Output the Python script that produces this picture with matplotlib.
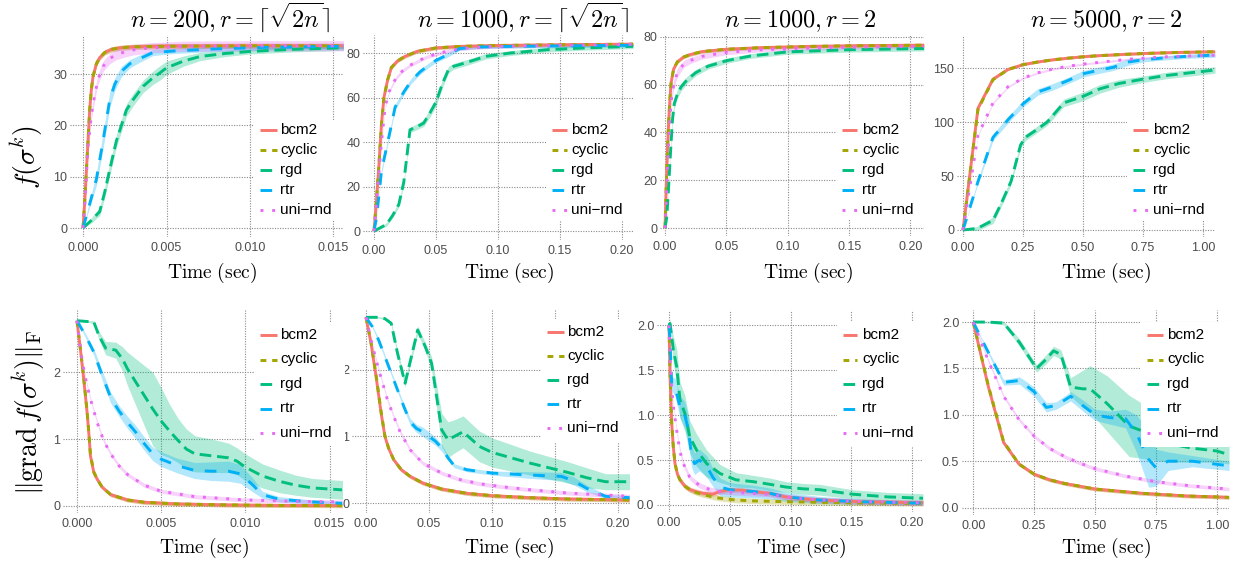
import matplotlib
matplotlib.use("Agg")
import matplotlib.pyplot as plt
from matplotlib.lines import Line2D
from matplotlib.patches import Rectangle
import numpy as np

W, H = 1233, 567
plt.rcParams['mathtext.fontset'] = 'cm'
plt.rcParams['font.family'] = ['Liberation Sans', 'DejaVu Sans']

methods = ['bcm2', 'cyclic', 'rgd', 'rtr', 'uni-rnd']
legend_labels = ['bcm2', 'cyclic', 'rgd', 'rtr', 'uni\u2212rnd']
colors = {'bcm2': '#F8766D', 'cyclic': '#A3A500', 'rgd': '#00BF7D',
          'rtr': '#00B0F6', 'uni-rnd': '#E76BF3'}
dashes = {'bcm2': '-', 'cyclic': (0, (2, 2)), 'rgd': (0, (4, 2)),
          'rtr': (0, (4, 4)), 'uni-rnd': (0, (1, 3))}

titles = [r'$n = 200, r = \lceil\sqrt{2n}\rceil$', r'$n = 1000, r = \lceil\sqrt{2n}\rceil$',
          r'$n = 1000, r = 2$', r'$n = 5000, r = 2$']

# ---------------- panel 1 : n=200, r=ceil(sqrt(2n)), f ----------------
p1_t_bcm2 = [0, .0001, .0002, .0003, .0004, .0005, .0006, .0008, .001, .0013, .0017, .0022, .003, .005, .01, .0156]
p1_bcm2 = [0, 5, 11, 17, 23, 27, 29.5, 32, 33.2, 34.2, 34.8, 35.1, 35.3, 35.45, 35.5, 35.5]
p1_cyclic = [0, 5.2, 11.2, 17.2, 23.1, 27, 29.5, 32, 33.2, 34.2, 34.8, 35.1, 35.3, 35.4, 35.5, 35.5]
p1_t_uni = [0, .0001, .0002, .0003, .0005, .0007, .0009, .0012, .0016, .002, .0025, .003, .004, .006, .01, .0156]
p1_uni = [0, 4, 10, 16, 22, 26, 29, 31.5, 33, 33.8, 34.3, 34.7, 35.1, 35.4, 35.5, 35.5]
p1_t_rtr = [0, .0003, .0008, .0012, .0016, .0019, .0023, .0028, .0034, .0042, .0055, .008, .011, .0156]
p1_rtr = [0, 3.5, 9.5, 17, 25, 28, 30.5, 32, 33, 34.2, 34.5, 34.9, 35.2, 35.4]
p1_rtr_sd = [0, .5, 1.2, 1.5, 1.5, 1.2, 1, .8, .7, .6, .5, .5, .5, .5]
p1_t_rgd = [0, .0005, .001, .0013, .0016, .002, .0026, .003, .0036, .0042, .0046, .005, .006, .007, .0085, .01, .0125, .0156]
p1_rgd = [0, 1.5, 3.2, 7, 11.4, 17, 23, 25, 27.6, 29.3, 30.2, 31.2, 32.5, 33.4, 34, 34.4, 34.8, 35.1]
p1_rgd_sd = [0, .5, .8, 1, 1.2, 1.2, 1.2, 1.2, 1.2, 1.3, 1.4, 1.3, 1, .8, .6, .5, .5, .5]
p1_small_sd = 0.5

# ---------------- panel 2 : n=1000, r=ceil(sqrt(2n)), f ----------------
p2_t_bcm2 = [0, .002, .004, .006, .008, .011, .014, .019, .025, .035, .05, .07, .1, .15, .209]
p2_bcm2 = [0, 14, 30, 48, 60, 68, 73.5, 76.5, 78.5, 80.8, 82.3, 83, 83.4, 83.7, 84]
p2_cyclic = [0, 14.5, 30.5, 48, 60, 68, 73.5, 76.5, 78.5, 80.8, 82.3, 83, 83.4, 83.7, 84]
p2_t_uni = [0, .003, .006, .009, .012, .015, .018, .023, .029, .036, .042, .05, .056, .069, .09, .12, .16, .209]
p2_uni = [0, 20, 40, 56, 62.5, 66, 69, 72, 74.5, 76.5, 78.2, 79.5, 80.4, 82, 82.8, 83.3, 83.6, 83.9]
p2_t_rtr = [0, .002, .006, .013, .017, .024, .03, .037, .044, .05, .061, .069, .083, .11, .15, .209]
p2_rtr = [0, 6, 27, 45, 55.7, 62.5, 67.5, 71.5, 74.5, 76.7, 79.7, 82, 82.7, 83, 83.2, 83.5]
p2_rtr_sd = [0, .8, 1.2, 1.2, 1.2, 1.2, 1.2, 1.2, 1, 1, 1, .8, .8, .8, .8, .8]
p2_t_rgd = [0, .005, .01, .015, .02, .024, .027, .029, .035, .04, .045, .05, .055, .06, .064, .075, .09, .11, .14, .17, .209]
p2_rgd = [0, 1.5, 3, 7, 12, 22, 36, 45.5, 47, 48.5, 53, 58, 66, 72.5, 74, 75.8, 78.5, 80, 81.5, 82.3, 83]
p2_rgd_sd = [0, .5, .8, 1, 1.2, 1.2, 1.2, 1.2, 1.3, 1.5, 1.8, 2, 1.8, 1.5, 1.3, 1.3, 1.2, 1.1, 1, 1, 1]
p2_small_sd = 0.8

# ---------------- panel 3 : n=1000, r=2, f ----------------
p3_t_bcm2 = [0, .001, .002, .003, .004, .005, .007, .01, .015, .02, .03, .05, .08, .12, .16, .211]
p3_bcm2 = [0, 18, 33, 45, 54, 61, 66.5, 69.5, 71.5, 72.5, 73.8, 74.8, 75.5, 76, 76.3, 76.5]
p3_cyclic = [0, 18.5, 33.5, 45, 54, 61, 66.5, 69.5, 71.5, 72.5, 73.8, 74.8, 75.5, 76, 76.3, 76.5]
p3_uni = [0, 12, 25, 37, 46, 53, 60, 65, 68.5, 70, 71.8, 73.5, 74.6, 75.3, 75.7, 76]
p3_uni_sd = [0, 1.5, 2, 2, 2, 2, 2, 1.8, 1.5, 1.3, 1.1, 1, .8, .8, .8, .8]
p3_t_rgd = [0, .0015, .003, .0045, .006, .0075, .01, .013, .018, .025, .035, .05, .07, .1, .15, .211]
p3_rgd = [0, 5, 18, 32, 45, 52, 56, 59, 62, 65, 67.7, 70, 72, 73.7, 74.6, 75.1]
p3_rgd_sd = [0, 1, 1.5, 2, 2, 2, 1.8, 1.7, 1.5, 1.3, 1.2, 1.1, 1, 1, 1, 1]
p3_small_sd = 0.7

# ---------------- panel 4 : n=5000, r=2, f ----------------
p4_t_bcm2 = [0, .0625, .125, .1875, .25, .3125, .375, .4375, .5, .5625, .625, .6875, .75, .8125, .875, .9375, 1.0, 1.05]
p4_bcm2 = [0, 113, 140, 149, 153.5, 156, 158, 159.5, 160.8, 161.8, 162.5, 163.2, 163.8, 164.3, 164.7, 165, 165.3, 165.5]
p4_cyclic = [0, 112, 139.5, 149, 153.5, 156, 158, 159.5, 160.8, 161.8, 162.5, 163.2, 163.8, 164.3, 164.7, 165, 165.3, 165.5]
p4_uni = [0, 88, 118, 133, 141, 146, 149.5, 152, 154, 155.5, 157, 158.5, 159.5, 160.5, 161, 161.5, 162, 162.3]
p4_t_rtr = [0, .0625, .125, .19, .25, .31, .375, .44, .5, .56, .625, .69, .75, .85, .95, 1.05]
p4_rtr = [0, 45, 86, 103, 117, 128, 133, 139, 145, 148, 151, 156, 158, 160, 161.5, 162.3]
p4_rtr_sd = [0, 2, 3, 3, 3, 3, 3, 3, 3, 3, 3, 3, 2, 2, 2, 2]
p4_t_rgd = [0, .06, .125, .16, .2, .22, .24, .26, .3, .35, .42, .5, .57, .65, .75, .85, .95, 1.05]
p4_rgd = [0, 1.5, 9, 25, 45, 62, 79, 86, 92, 100, 118, 124, 131, 136, 140, 143.5, 146, 148.5]
p4_rgd_sd = [0, 2, 3, 3, 3, 3, 3, 3, 3, 3, 3.5, 4, 4, 3.5, 3, 3, 3, 3]
p4_small_sd = 1.0

# ---------------- panel 5 : n=200, r=ceil(sqrt(2n)), grad ----------------
p5_t_bcm2 = [0, .0002, .0004, .0006, .0007, .0008, .001, .0012, .0015, .002, .003, .004, .006, .009, .012, .0158]
p5_bcm2 = [2.77, 2.35, 1.9, 1.4, 1.1, .75, .5, .4, .28, .17, .09, .055, .03, .015, .008, .005]
p5_cyclic = [2.77, 2.36, 1.92, 1.42, 1.12, .77, .51, .4, .28, .17, .09, .055, .03, .015, .008, .005]
p5_t_uni = [0, .0002, .0004, .0006, .0008, .001, .0013, .0016, .002, .0025, .003, .004, .005, .007, .01, .013, .0158]
p5_uni = [2.77, 2.35, 2.05, 1.8, 1.6, 1.42, 1.17, .97, .78, .6, .47, .31, .22, .14, .09, .07, .06]
p5_t_rtr = [0, .0005, .001, .0015, .002, .0025, .003, .0035, .004, .0045, .005, .006, .007, .008, .009, .0097, .0105, .011, .012, .014, .0158]
p5_rtr = [2.77, 2.55, 2.3, 1.95, 1.62, 1.42, 1.25, 1.1, .93, .78, .7, .6, .53, .52, .52, .48, .3, .17, .1, .06, .04]
p5_rtr_sd = [0, .03, .05, .07, .08, .08, .09, .1, .1, .1, .11, .11, .12, .14, .15, .14, .1, .05, .04, .03, .02]
p5_t_rgd = [0, .0005, .001, .0013, .0017, .0023, .0027, .003, .0035, .004, .0045, .005, .0055, .006, .0065, .007, .008, .009, .0095, .01, .011, .012, .013, .014, .0158]
p5_rgd = [2.77, 2.76, 2.75, 2.55, 2.36, 2.33, 2.2, 2.05, 1.85, 1.65, 1.45, 1.27, 1.12, .98, .85, .78, .75, .72, .67, .58, .45, .37, .31, .27, .24]
p5_rgd_sd = [0, .01, .02, .06, .1, .12, .18, .25, .35, .45, .55, .5, .4, .33, .3, .27, .25, .22, .2, .2, .18, .17, .15, .14, .14]
p5_small_sd = 0.03

# ---------------- panel 6 : n=1000, r=ceil(sqrt(2n)), grad ----------------
p6_t_bcm2 = [0, .004, .008, .012, .015, .018, .022, .028, .035, .045, .06, .08, .1, .13, .16, .209]
p6_bcm2 = [2.79, 2.4, 1.9, 1.35, 1.0, .82, .65, .5, .4, .3, .21, .145, .11, .08, .06, .045]
p6_cyclic = [2.79, 2.41, 1.92, 1.37, 1.01, .82, .65, .5, .4, .3, .21, .145, .11, .08, .06, .045]
p6_t_uni = [0, .004, .008, .012, .017, .022, .027, .035, .045, .06, .075, .09, .11, .13, .16, .19, .209]
p6_uni = [2.79, 2.45, 2.15, 1.88, 1.55, 1.3, 1.07, .8, .6, .45, .35, .29, .24, .2, .15, .12, .1]
p6_t_rtr = [0, .005, .01, .015, .02, .025, .03, .035, .04, .045, .05, .055, .06, .065, .07, .08, .1, .13, .155, .165, .175, .19, .209]
p6_rtr = [2.79, 2.65, 2.45, 2.2, 1.95, 1.7, 1.45, 1.22, 1.12, 1.07, 1.0, .93, .83, .68, .56, .5, .45, .42, .4, .33, .22, .1, .08]
p6_rtr_sd = [0, .02, .03, .03, .03, .03, .04, .05, .06, .07, .07, .06, .05, .04, .03, .03, .03, .05, .06, .06, .05, .03, .03]
p6_t_rgd = [0, .01, .015, .02, .025, .031, .036, .041, .047, .052, .056, .06, .065, .07, .077, .09, .1, .115, .13, .145, .16, .175, .19, .209]
p6_rgd = [2.79, 2.79, 2.77, 2.7, 2.25, 1.8, 2.2, 2.6, 2.35, 2.1, 1.6, 1.1, .95, 1.0, 1.07, .85, .76, .68, .6, .53, .46, .38, .32, .32]
p6_rgd_sd = [0, .01, .02, .03, .05, .06, .06, .06, .06, .1, .18, .25, .27, .25, .24, .23, .22, .2, .18, .17, .16, .15, .12, .12]
p6_small_sd = 0.03

# ---------------- panel 7 : n=1000, r=2, grad ----------------
p7_t_bcm2 = [0, .0008, .0022, .0035, .0049, .007, .009, .013, .0172, .022, .028, .036, .042, .05, .06, .069, .083, .096, .11, .124, .16, .209]
p7_bcm2 = [2.0, 1.46, .91, .65, .46, .34, .28, .21, .17, .15, .13, .12, .15, .17, .165, .15, .13, .09, .07, .055, .035, .025]
p7_t_cyclic = [0, .0008, .0022, .0035, .0049, .007, .009, .013, .0172, .022, .028, .036, .042, .055, .07, .096, .13, .16, .209]
p7_cyclic = [2.0, 1.46, .91, .65, .46, .34, .28, .21, .17, .14, .115, .09, .075, .055, .045, .037, .028, .022, .018]
p7_t_uni = [0, .001, .0022, .004, .0063, .008, .01, .013, .017, .021, .025, .03, .034, .042, .055, .069, .083, .096, .11, .124, .16, .209]
p7_uni = [2.0, 1.6, 1.28, 1.05, .83, .68, .54, .42, .31, .26, .22, .19, .17, .15, .14, .13, .12, .09, .07, .055, .035, .025]
p7_t_rtr = [0, .0008, .0022, .005, .009, .013, .016, .0186, .021, .025, .031, .036, .042, .05, .069, .083, .096, .124, .16, .209]
p7_rtr = [2.0, 1.83, 1.35, 1.31, 1.09, 1.0, .83, .54, .46, .5, .43, .31, .2, .17, .15, .13, .09, .055, .035, .02]
p7_rtr_sd = [0, .05, .08, .1, .12, .15, .15, .12, .12, .12, .12, .1, .1, .08, .07, .06, .05, .04, .03, .02]
p7_t_rgd = [0, .0008, .0036, .0063, .009, .013, .017, .0227, .031, .042, .055, .069, .083, .096, .11, .124, .151, .18, .209]
p7_rgd = [2.0, 2.02, 1.72, 1.54, 1.17, 1.02, .76, .61, .46, .35, .28, .26, .23, .2, .18, .17, .12, .09, .075]
p7_rgd_sd = [0, .05, .15, .2, .2, .2, .18, .18, .15, .1, .08, .07, .07, .06, .06, .06, .05, .05, .05]
p7_small_sd = 0.03

# ---------------- panel 8 : n=5000, r=2, grad ----------------
p8_t_bcm2 = [0, .0625, .125, .1875, .25, .3125, .375, .4375, .5, .5625, .625, .6875, .75, .8125, .875, .9375, 1.0, 1.05]
p8_bcm2 = [2.0, 1.3, .7, .47, .36, .3, .26, .23, .2, .185, .17, .155, .145, .135, .125, .12, .115, .11]
p8_cyclic = [2.0, 1.31, .71, .47, .36, .3, .26, .23, .2, .185, .17, .155, .145, .135, .125, .12, .115, .11]
p8_uni = [2.0, 1.58, 1.2, .95, .77, .64, .55, .48, .42, .38, .34, .31, .28, .26, .24, .225, .21, .2]
p8_t_rtr = [0, .0625, .125, .19, .25, .3, .34, .4, .45, .5, .56, .625, .67, .72, .75, .8, .9, 1.05]
p8_rtr = [2.0, 1.67, 1.35, 1.37, 1.25, 1.08, 1.1, 1.2, 1.1, 1.0, .97, .96, .8, .52, .43, .5, .5, .45]
p8_rtr_sd = [0, .02, .03, .04, .05, .05, .04, .05, .06, .06, .07, .1, .2, .3, .2, .1, .06, .05]
p8_t_rgd = [0, .06, .125, .19, .26, .3, .33, .36, .4, .45, .48, .55, .64, .72, .8, .9, 1.0, 1.05]
p8_rgd = [2.0, 2.0, 1.99, 1.78, 1.5, 1.6, 1.69, 1.65, 1.3, 1.28, 1.28, 1.12, .88, .8, .69, .64, .61, .57]
p8_rgd_sd = [0, .01, .02, .04, .04, .05, .05, .05, .1, .2, .25, .3, .33, .28, .2, .15, .12, .1]
p8_small_sd = 0.02


def S(v, n):
    return np.zeros(n) + np.asarray(v, dtype=float)


series = [
    [('bcm2', p1_t_bcm2, p1_bcm2, p1_small_sd), ('cyclic', p1_t_bcm2, p1_cyclic, p1_small_sd),
     ('rgd', p1_t_rgd, p1_rgd, p1_rgd_sd), ('rtr', p1_t_rtr, p1_rtr, p1_rtr_sd),
     ('uni-rnd', p1_t_uni, p1_uni, p1_small_sd * 2)],
    [('bcm2', p2_t_bcm2, p2_bcm2, p2_small_sd), ('cyclic', p2_t_bcm2, p2_cyclic, p2_small_sd),
     ('rgd', p2_t_rgd, p2_rgd, p2_rgd_sd), ('rtr', p2_t_rtr, p2_rtr, p2_rtr_sd),
     ('uni-rnd', p2_t_uni, p2_uni, p2_small_sd)],
    [('bcm2', p3_t_bcm2, p3_bcm2, p3_small_sd), ('cyclic', p3_t_bcm2, p3_cyclic, p3_small_sd),
     ('rgd', p3_t_rgd, p3_rgd, p3_rgd_sd), ('uni-rnd', p3_t_bcm2, p3_uni, p3_uni_sd)],
    [('bcm2', p4_t_bcm2, p4_bcm2, p4_small_sd), ('cyclic', p4_t_bcm2, p4_cyclic, p4_small_sd),
     ('rgd', p4_t_rgd, p4_rgd, p4_rgd_sd), ('rtr', p4_t_rtr, p4_rtr, p4_rtr_sd),
     ('uni-rnd', p4_t_bcm2, p4_uni, p4_small_sd)],
    [('bcm2', p5_t_bcm2, p5_bcm2, p5_small_sd), ('cyclic', p5_t_bcm2, p5_cyclic, p5_small_sd),
     ('rgd', p5_t_rgd, p5_rgd, p5_rgd_sd), ('rtr', p5_t_rtr, p5_rtr, p5_rtr_sd),
     ('uni-rnd', p5_t_uni, p5_uni, p5_small_sd)],
    [('bcm2', p6_t_bcm2, p6_bcm2, p6_small_sd), ('cyclic', p6_t_bcm2, p6_cyclic, p6_small_sd),
     ('rgd', p6_t_rgd, p6_rgd, p6_rgd_sd), ('rtr', p6_t_rtr, p6_rtr, p6_rtr_sd),
     ('uni-rnd', p6_t_uni, p6_uni, p6_small_sd)],
    [('bcm2', p7_t_bcm2, p7_bcm2, p7_small_sd), ('cyclic', p7_t_cyclic, p7_cyclic, p7_small_sd),
     ('rgd', p7_t_rgd, p7_rgd, p7_rgd_sd), ('rtr', p7_t_rtr, p7_rtr, p7_rtr_sd),
     ('uni-rnd', p7_t_uni, p7_uni, p7_small_sd)],
    [('bcm2', p8_t_bcm2, p8_bcm2, p8_small_sd), ('cyclic', p8_t_bcm2, p8_cyclic, p8_small_sd),
     ('rgd', p8_t_rgd, p8_rgd, p8_rgd_sd), ('rtr', p8_t_rtr, p8_rtr, p8_rtr_sd),
     ('uni-rnd', p8_t_bcm2, p8_uni, p8_small_sd)],
]

# ---------------- layout (pixels) ----------------
layout = [
    ((70, 343, 35, 237), (-0.00078, 0.01557), (-1.75, 37.6), [0, .005, .01, .015], '%.3f', [0, 10, 20, 30], '%d'),
    ((363, 633, 35, 240), (-0.0089, 0.2089), (-4.0, 88.1), [0, .05, .1, .15, .2], '%.2f', [0, 20, 40, 60, 80], '%d'),
    ((660, 924, 35, 236), (-0.0041, 0.211), (-3.3, 80.75), [0, .05, .1, .15, .2], '%.2f', [0, 20, 40, 60, 80], '%d'),
    ((957, 1215, 35, 237), (-0.025, 1.05), (-6.5, 181), [0, .25, .5, .75, 1.0], '%.2f', [0, 50, 100, 150], '%d'),
    ((63, 342, 310, 513), (-0.00083, 0.01574), (-0.105, 2.93), [0, .005, .01, .015], '%.3f', [0, 1, 2], '%d'),
    ((352, 630, 310, 513), (-0.0111, 0.2094), (-0.15, 2.9), [0, .05, .1, .15, .2], '%.2f', [0, 1, 2], '%d'),
    ((657, 923, 310, 512), (-0.0099, 0.209), (-0.078, 2.17), [0, .05, .1, .15, .2], '%.2f', [0, .5, 1, 1.5, 2], '%.1f'),
    ((962, 1229, 310, 515), (-0.046, 1.05), (-0.08, 2.13), [0, .25, .5, .75, 1.0], '%.2f', [0, .5, 1, 1.5, 2], '%.1f'),
]
legends = [
    (260, 277, 280, 130, 20, (254, 345, 120, 220)),
    (552, 567, 571, 130, 20, (546, 633, 120, 220)),
    (842, 857, 862, 130, 20, (836, 925, 120, 220)),
    (1133, 1148, 1153, 130, 20, (1127, 1216, 120, 220)),
    (260, 277, 280, 335, 24.5, (254, 345, 322, 446)),
    (547, 564, 567, 332, 24, (541, 630, 319, 442)),
    (843, 857, 862, 335, 24.5, (837, 924, 322, 446)),
    (1147, 1163, 1167, 335, 24.5, (1141, 1229, 322, 447)),
]
xlabel_x = [212, 509, 808, 1106, 204, 509, 801, 1106]
xlabel_y = [273, 273, 273, 273, 548, 548, 548, 548]
title_x = [230, 523, 800, 1106]

fig = plt.figure(figsize=(W / 100, H / 100), dpi=100)
fig.patch.set_facecolor('white')

LW = 2.1
for i, (rect, xl, yl, xt, xf, yt, yf) in enumerate(layout):
    L, R, T, B = rect
    ax = fig.add_axes([L / W, 1 - B / H, (R - L) / W, (B - T) / H])
    ax.set_facecolor('none')
    for m, t, v, sd in series[i]:
        t = np.asarray(t, float)
        v = np.asarray(v, float)
        sd = S(sd, len(t))
        ax.fill_between(t, v - sd, v + sd, color=colors[m], alpha=0.3, lw=0, zorder=1)
    for m, t, v, sd in series[i]:
        ax.plot(t, v, color=colors[m], lw=LW, linestyle=dashes[m], zorder=2,
                solid_capstyle='butt', dash_capstyle='butt')
    ax.set_xlim(*xl)
    ax.set_ylim(*yl)
    ax.set_xticks(xt)
    ax.set_xticklabels([xf % x for x in xt])
    ax.set_yticks(yt)
    ax.set_yticklabels([yf % y for y in yt])
    ax.grid(True, linestyle=(0, (1, 1.3)), color='#8a8a8a', linewidth=0.8)
    ax.set_axisbelow(True)
    for s in ax.spines.values():
        s.set_visible(False)
    ax.tick_params(length=0, labelsize=9, labelcolor='#4d4d4d')
    ax.tick_params(axis='x', pad=3.5)
    ax.tick_params(axis='y', pad=2)

    kx0, kx1, tx, y0, dy, (bx0, bx1, by0, by1) = legends[i]
    fig.add_artist(Rectangle((bx0 / W, 1 - by1 / H), (bx1 - bx0) / W, (by1 - by0) / H,
                             transform=fig.transFigure, facecolor='white', edgecolor='none', zorder=1))
    for j, m in enumerate(methods):
        y = y0 + j * dy
        fig.add_artist(Line2D([kx0 / W, kx1 / W], [1 - y / H, 1 - y / H], transform=fig.transFigure,
                              color=colors[m], lw=LW, linestyle=dashes[m], zorder=2,
                              solid_capstyle='butt', dash_capstyle='butt'))
        fig.text(tx / W, 1 - y / H, legend_labels[j], ha='left', va='center', fontsize=11,
                 color='black', zorder=3)

    fig.text(xlabel_x[i] / W, 1 - xlabel_y[i] / H, r'$\mathrm{Time\ (sec)}$', ha='center', va='center',
             fontsize=14)

for k in range(4):
    fig.text(title_x[k] / W, 1 - 27 / H, titles[k], ha='center', va='baseline', fontsize=17.5)

fig.text(27 / W, 1 - 157 / H, r'$f(\sigma^k)$', rotation=90, ha='center', va='center', fontsize=20)
fig.text(29 / W, 1 - 412 / H, r'$\|\mathrm{grad}\,f(\sigma^k)\|_{\mathrm{F}}$', rotation=90,
         ha='center', va='center', fontsize=20)

fig.savefig('out.png', dpi=100, facecolor='white')
